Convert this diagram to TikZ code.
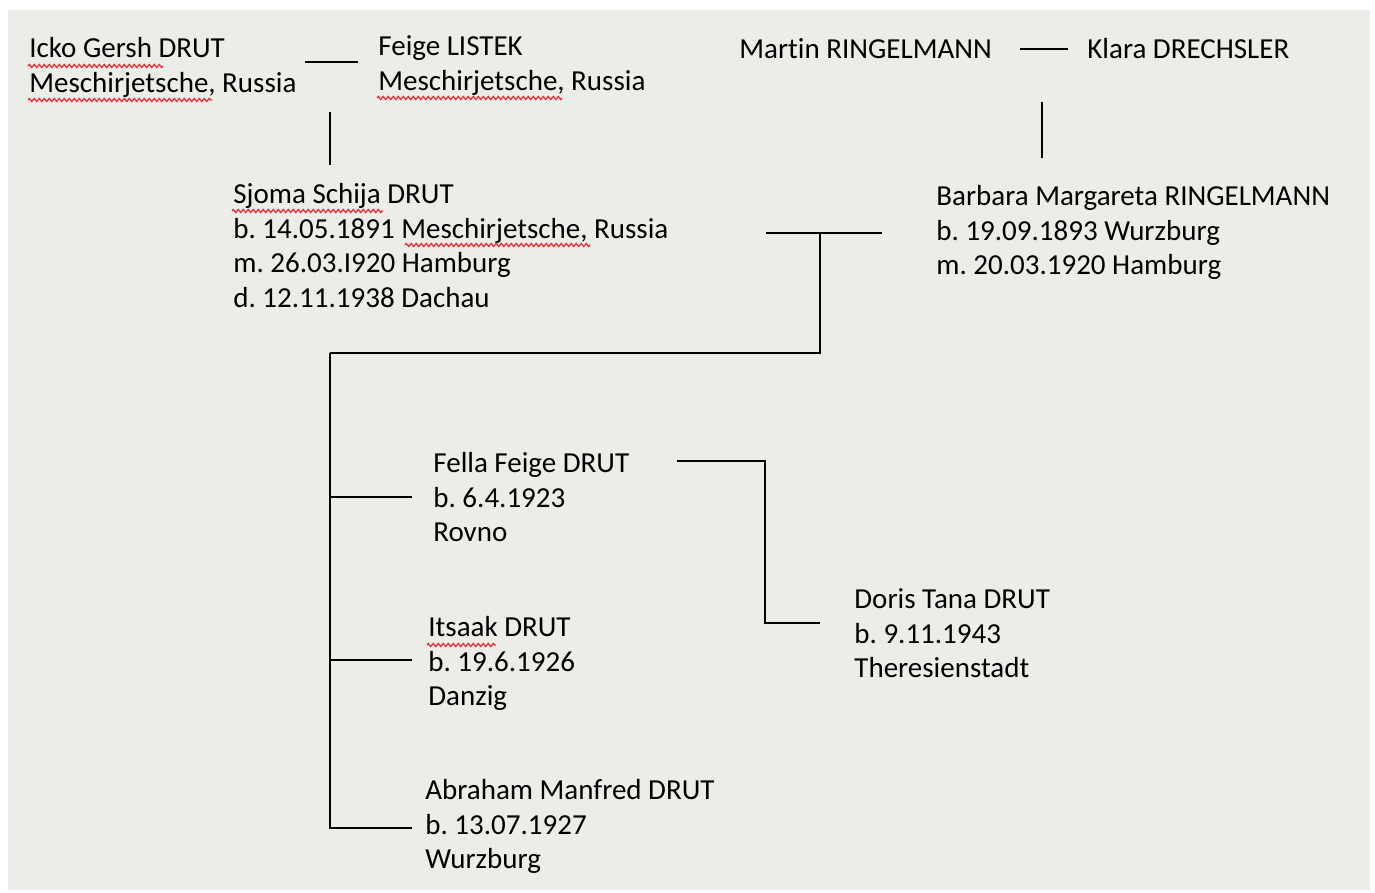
\documentclass[tikz,border=0pt]{standalone}
\usepackage{fontspec}
\setmainfont{Carlito}[Ligatures=NoCommon]
\usetikzlibrary{decorations.pathmorphing}
\definecolor{paper}{HTML}{ECEDE9}
\definecolor{spellred}{HTML}{E8303A}
\frenchspacing

\begin{document}
\begin{tikzpicture}[x=1pt,y=-1pt,line width=2.8pt,
  person/.style={anchor=north west,align=left,inner sep=0pt,
    font=\fontsize{29}{34.7}\selectfont},
  spell/.style={spellred,line width=1.3pt,decorate,
    decoration={zigzag,segment length=5pt,amplitude=1.5pt}}]

  \useasboundingbox (0,0) rectangle (1375,893);
  \fill[paper] (8,10) rectangle (1370,890);

  % grandparents
  \node[person] (icko) at (28,36) {Icko Gersh DRUT\\Meschirjetsche, Russia};
  \node[person] (feige) at (377,34) {Feige LISTEK\\Meschirjetsche, Russia};
  \node[person] (martin) at (738,37) {Martin RINGELMANN};
  \node[person] (klara) at (1086,37) {Klara DRECHSLER};

  % parents
  \node[person] (sjoma) at (232,182) {Sjoma Schija DRUT\\b. 14.05.1891 Meschirjetsche, Russia\\m. 26.03.I920 Hamburg\\d. 12.11.1938 Dachau};
  \node[person] (barbara) at (935,184) {Barbara Margareta RINGELMANN\\b. 19.09.1893 Wurzburg\\m. 20.03.1920 Hamburg};

  % children
  \node[person] (fella) at (432,451) {Fella Feige DRUT\\b. 6.4.1923\\Rovno};
  \node[person] (itsaak) at (427,615) {Itsaak DRUT\\b. 19.6.1926\\Danzig};
  \node[person] (abraham) at (424,778) {Abraham Manfred DRUT\\b. 13.07.1927\\Wurzburg};
  \node[person] (doris) at (853,587) {Doris Tana DRUT\\b. 9.11.1943\\Theresienstadt};

  % connector ends
  \coordinate (m1l) at (305,62);
  \coordinate (m1r) at (358,62);
  \coordinate (d1t) at (330,112);
  \coordinate (d1b) at (330,165);
  \coordinate (m2l) at (1020,49);
  \coordinate (m2r) at (1068,49);
  \coordinate (d2t) at (1042,102);
  \coordinate (d2b) at (1042,158);
  \coordinate (m3l) at (766,233);
  \coordinate (m3r) at (882,233);
  \coordinate (m3c) at (820,233);
  \coordinate (trunk) at (330,353);
  \coordinate (k1) at (412,497);
  \coordinate (k2) at (412,660);
  \coordinate (k3) at (412,828);
  \coordinate (f1) at (677,461);
  \coordinate (f2) at (820,623);

  \path[draw]
    (m1l) edge (m1r)
    (d1t) edge (d1b)
    (m2l) edge (m2r)
    (d2t) edge (d2b)
    (m3l) edge (m3r)
    (m3c) edge[to path={|- (\tikztotarget)}] (trunk)
    (trunk) edge[to path={|- (\tikztotarget)}] (k1)
            edge[to path={|- (\tikztotarget)}] (k2)
            edge[to path={|- (\tikztotarget)}] (k3)
    (f1) edge[to path={-| (765,623) -- (\tikztotarget)}] (f2);

  % spell check marks
  \draw[spell] (28,66) -- (163,66);
  \draw[spell] (28,100) -- (212,100);
  \draw[spell] (377,98) -- (562,98);
  \draw[spell] (232,211) -- (383,211);
  \draw[spell] (405,245) -- (590,245);
  \draw[spell] (427,645) -- (496,645);
\end{tikzpicture}
\end{document}
